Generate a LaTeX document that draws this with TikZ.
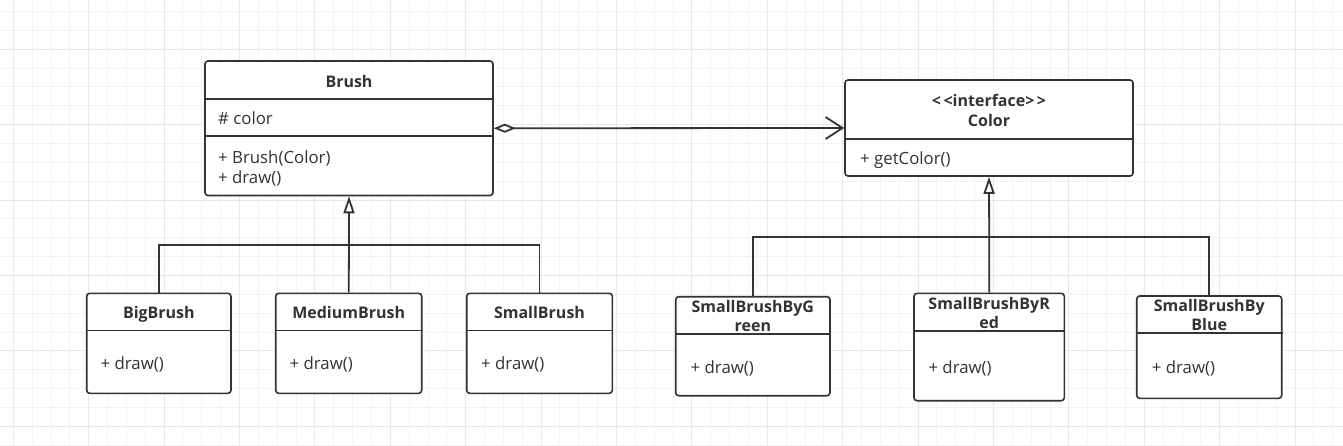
\documentclass[tikz,border=0pt]{standalone}
\usepackage{fontspec}
\setmainfont{Open Sans}
\usetikzlibrary{arrows.meta}
\definecolor{ink}{HTML}{333333}
\definecolor{gridminor}{HTML}{F3F3F3}
\definecolor{gridmajor}{HTML}{E8E8E8}
\tikzset{
  cls/.style={draw=ink, line width=1.6pt, rounded corners=3pt, fill=white, inner sep=0pt, rectangle},
  divline/.style={draw=ink, line width=1.6pt},
  conn/.style={draw=ink, line width=1.8pt},
  ttl/.style={font=\bfseries\fontsize{16}{19.3}\selectfont, text=ink, inner sep=0pt, align=center, anchor=mid},
  txt/.style={font=\fontsize{16.8}{20}\selectfont, text=ink, inner sep=0pt, align=left, anchor=mid west},
}
\begin{document}
\begin{tikzpicture}[x=1pt,y=-1pt]
\useasboundingbox (0,0) rectangle (1343,446);
\fill[white] (0,0) rectangle (1343,446);
% grid
\foreach \k in {-1,...,70} {
  \draw[gridminor, line width=1pt] ({13.3+\k*18.85},0) -- ({13.3+\k*18.85},446);
}
\foreach \k in {-2,...,21} {
  \draw[gridminor, line width=1pt] (0,{49.3+\k*18.85}) -- (1343,{49.3+\k*18.85});
}
\foreach \k in {0,...,17} {
  \draw[gridmajor, line width=1pt] ({13.3+\k*75.4},0) -- ({13.3+\k*75.4},446);
}
\foreach \k in {0,...,5} {
  \draw[gridmajor, line width=1pt] (0,{49.3+\k*75.4}) -- (1343,{49.3+\k*75.4});
}

% Brush
\node[cls, minimum width=288pt, minimum height=134.5pt] (brush) at (349,128.25) {};
\draw[divline] (brush.west |- 0,99) -- (brush.east |- 0,99);
\draw[divline] (brush.west |- 0,136) -- (brush.east |- 0,136);
\node[ttl] (brushtitle) at (349,84.5) {Brush};
\node[txt] (brushattr) at (218,122) {\# color};
\node[txt] (brushops1) at (218,161) {+ Brush(Color)};
\node[txt] (brushops2) at (218,181) {+ draw()};

% Color interface
\node[cls, minimum width=288pt, minimum height=96pt] (color) at (989,128) {};
\draw[divline] (color.west |- 0,139) -- (color.east |- 0,139);
\node[ttl] (colorst) at (989,103.5) {<\kern2.5pt<interface>\kern2.5pt>};
\node[ttl] (colortitle) at (989,124) {Color};
\node[txt] (colorops) at (860,162) {+ getColor()};

% Brush subclasses
\node[cls, minimum width=144.3pt, minimum height=100pt] (big) at (158.85,343.3) {};
\draw[divline] (big.west |- 0,330.5) -- (big.east |- 0,330.5);
\node[ttl] (bigtitle) at (158.85,316) {BigBrush};
\node[txt] (bigops) at (100.5,366.5) {+ draw()};

\node[cls, minimum width=146pt, minimum height=100pt] (medium) at (348.7,343.3) {};
\draw[divline] (medium.west |- 0,330.5) -- (medium.east |- 0,330.5);
\node[ttl] (mediumtitle) at (348.7,316) {MediumBrush};
\node[txt] (mediumops) at (289.5,366.5) {+ draw()};

\node[cls, minimum width=145.6pt, minimum height=100pt] (small) at (539.5,343.3) {};
\draw[divline] (small.west |- 0,330.5) -- (small.east |- 0,330.5);
\node[ttl] (smalltitle) at (539.5,316) {SmallBrush};
\node[txt] (smallops) at (481,366.5) {+ draw()};

% Color implementations
\node[cls, minimum width=154.3pt, minimum height=99pt] (green) at (752.85,346.2) {};
\draw[divline] (green.west |- 0,334) -- (green.east |- 0,334);
\node[ttl] (greentitle) at (752.85,329.3) {SmallBrushByG\\reen};
\node[txt] (greenops) at (690.5,370.7) {+ draw()};

\node[cls, minimum width=150.3pt, minimum height=107.4pt] (red) at (989.15,347) {};
\draw[divline] (red.west |- 0,331) -- (red.east |- 0,331);
\node[ttl] (redtitle) at (989.15,326.3) {SmallBrushByR\\ed};
\node[txt] (redops) at (928.3,370.7) {+ draw()};

\node[cls, minimum width=145pt, minimum height=102.3pt] (blue) at (1209.2,347.15) {};
\draw[divline] (blue.west |- 0,332.7) -- (blue.east |- 0,332.7);
\node[ttl] (bluetitle) at (1209.2,328.3) {SmallBrushBy\\Blue};
\node[txt] (blueops) at (1151.7,370.7) {+ draw()};

% aggregation
\draw[conn, {Diamond[open, length=22pt, width=9pt, fill=white]}-{Straight Barb[length=17pt, width=22pt]}] (brush.east) -- (color.west);

% inheritance left
\coordinate (lbus) at (349,245);
\draw[conn] (big.north) |- (lbus) -| (small.north);
\draw[conn] (medium.north) -- (lbus);
\draw[conn, -{Triangle[open, length=17pt, width=11pt, fill=white]}] (lbus) -- (brush.south);

% inheritance right
\coordinate (rbus) at (989.2,236.7);
\draw[conn] (green.north) |- (rbus) -| (blue.north);
\draw[conn] (red.north) -- (rbus);
\draw[conn, -{Triangle[open, length=17pt, width=11pt, fill=white]}] (rbus) -- (color.south);
\end{tikzpicture}
\end{document}
